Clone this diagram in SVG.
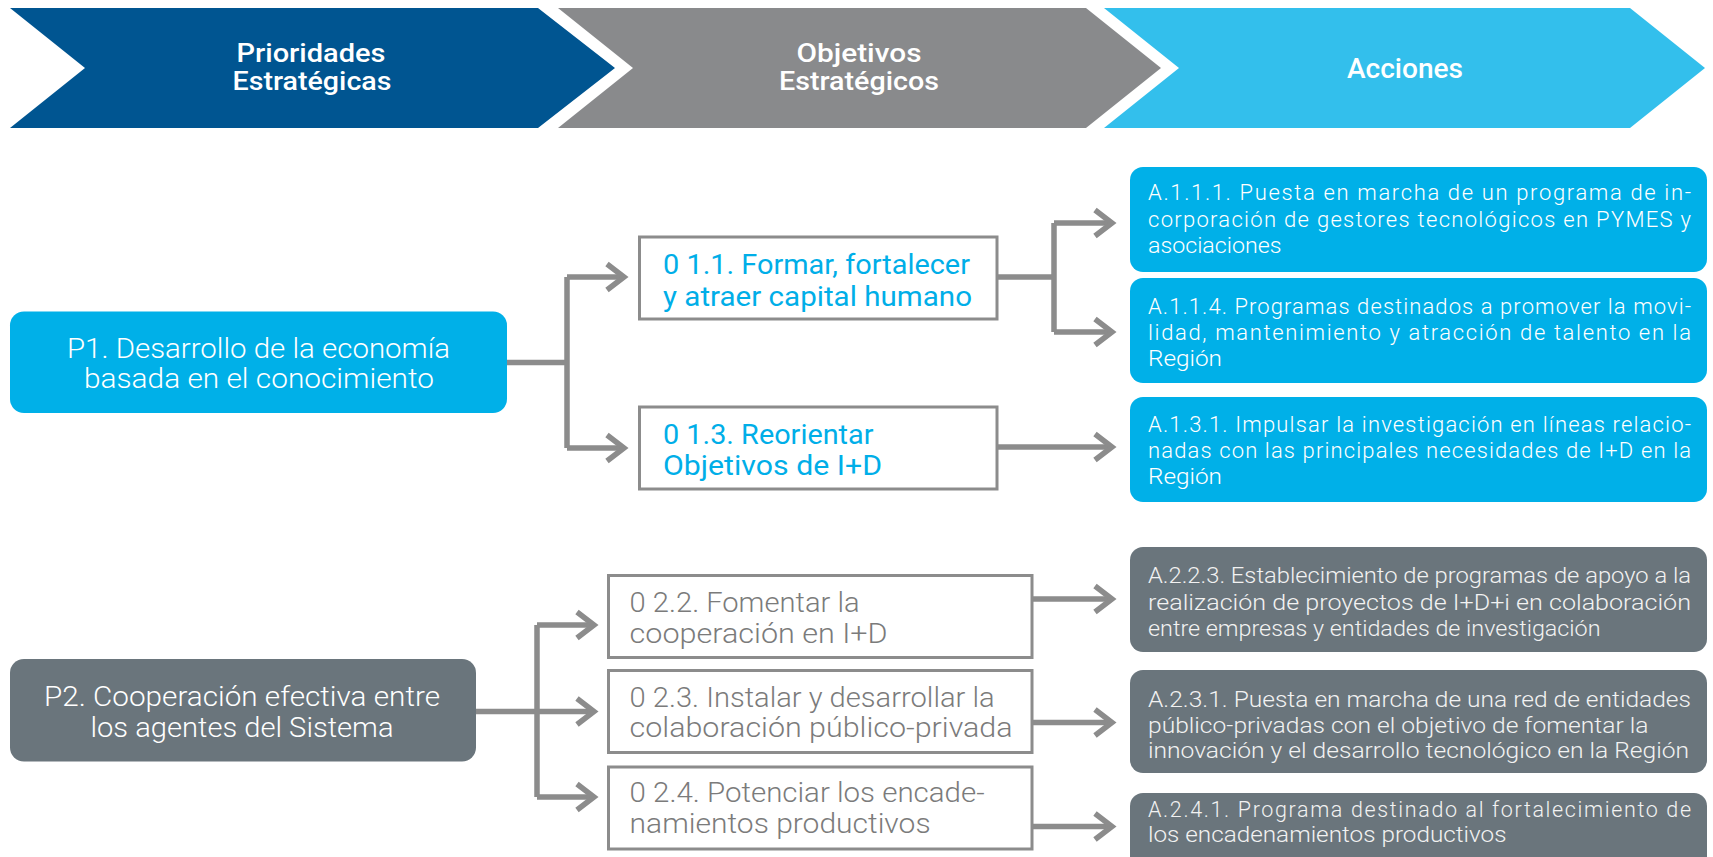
<svg xmlns="http://www.w3.org/2000/svg" width="1713" height="857" viewBox="0 0 1713 857">
<style>
text{font-family:Roboto,"Liberation Sans",sans-serif}
.hdr{font-weight:500;font-size:26px;fill:#fff;text-anchor:middle}
.p{font-weight:300;font-size:27px;fill:#fff;text-anchor:middle}
.o1{font-weight:400;font-size:28px;fill:#00aee8}
.o2{font-weight:300;font-size:28px;fill:#7b7b7b}
.a{font-weight:300;font-size:22px;fill:#fff}
.a2{font-weight:300;font-size:21.5px;fill:#f2f2f2}
.obox{fill:#fff;stroke:#8c8c8c;stroke-width:3}
.b1{fill:#00b0e8}
.b2{fill:#6a757c}
.con{fill:none;stroke:#8c8c8c;stroke-width:5.5;stroke-linejoin:miter}
</style>
<defs>
<path id="ah" d="M-17,-13 L0,0 L-17,13" class="con"/>
</defs>

<g id="header">
<polygon points="10,8 538,8 615,68 538,128 10,128 85,68" fill="#005591"/>
<polygon points="558,8 1086,8 1161,68 1086,128 558,128 633,68" fill="#898a8c"/>
<polygon points="1104,8 1630,8 1705,68 1630,128 1104,128 1179,68" fill="#33bfec"/>
<text class="hdr"><tspan x="311" y="61.5" textLength="149" lengthAdjust="spacingAndGlyphs">Prioridades</tspan><tspan x="312" y="90" textLength="159" lengthAdjust="spacingAndGlyphs">Estratégicas</tspan></text>
<text class="hdr"><tspan x="859" y="61.5" textLength="125" lengthAdjust="spacingAndGlyphs">Objetivos</tspan><tspan x="859" y="90" textLength="160" lengthAdjust="spacingAndGlyphs">Estratégicos</tspan></text>
<text class="hdr" x="1405" y="78" textLength="116" lengthAdjust="spacingAndGlyphs" style="font-size:28px">Acciones</text>
</g>

<g id="connectors">
<path class="con" d="M507,362.5 H567 M567,277 V448 M567,277 H622 M567,448 H622"/>
<use href="#ah" x="624" y="277"/>
<use href="#ah" x="624" y="448"/>
<path class="con" d="M997,277 H1054 M1054,223 V332 M1054,223 H1110 M1054,332 H1110"/>
<use href="#ah" x="1112" y="223"/>
<use href="#ah" x="1112" y="332"/>
<path class="con" d="M997,447 H1110"/>
<use href="#ah" x="1112" y="447"/>
<path class="con" d="M476,711.5 H592 M537,625 V797 M537,625 H592 M537,797 H592"/>
<use href="#ah" x="594" y="625"/>
<use href="#ah" x="594" y="711.5"/>
<use href="#ah" x="594" y="797"/>
<path class="con" d="M1032,599 H1110 M1032,722.5 H1110 M1032,826.5 H1110"/>
<use href="#ah" x="1112" y="599"/>
<use href="#ah" x="1112" y="722.5"/>
<use href="#ah" x="1112" y="826.5"/>
</g>

<g id="P1">
<rect class="b1" x="10" y="311.5" width="497" height="101.5" rx="14"/>
<text class="p"><tspan x="258.5" y="357.5" textLength="383" lengthAdjust="spacingAndGlyphs">P1. Desarrollo de la economía</tspan><tspan x="259" y="388" textLength="350" lengthAdjust="spacingAndGlyphs">basada en el conocimiento</tspan></text>
</g>

<g id="P2">
<rect class="b2" x="10" y="659" width="466" height="102.5" rx="14"/>
<text class="p"><tspan x="242" y="706" textLength="396" lengthAdjust="spacingAndGlyphs">P2. Cooperación efectiva entre</tspan><tspan x="242" y="736.5" textLength="303" lengthAdjust="spacingAndGlyphs">los agentes del Sistema</tspan></text>
</g>

<g id="O11">
<rect class="obox" x="639.5" y="237" width="357.5" height="82"/>
<text class="o1"><tspan x="663" y="274" textLength="307" lengthAdjust="spacingAndGlyphs">0 1.1. Formar, fortalecer</tspan><tspan x="663" y="305.5" textLength="309" lengthAdjust="spacingAndGlyphs">y atraer capital humano</tspan></text>
</g>

<g id="O13">
<rect class="obox" x="639.5" y="407" width="357.5" height="82"/>
<text class="o1"><tspan x="663" y="444" textLength="210.5" lengthAdjust="spacingAndGlyphs">0 1.3. Reorientar</tspan><tspan x="663" y="475" textLength="219" lengthAdjust="spacingAndGlyphs">Objetivos de I+D</tspan></text>
</g>

<g id="O22">
<rect class="obox" x="608.5" y="575.5" width="423.5" height="82"/>
<text class="o2"><tspan x="629.6" y="611.5" textLength="230" lengthAdjust="spacingAndGlyphs">0 2.2. Fomentar la</tspan><tspan x="629.6" y="642.5" textLength="258" lengthAdjust="spacingAndGlyphs">cooperación en I+D</tspan></text>
</g>

<g id="O23">
<rect class="obox" x="608.5" y="670.5" width="423.5" height="82"/>
<text class="o2"><tspan x="629.6" y="706.5" textLength="365" lengthAdjust="spacingAndGlyphs">0 2.3. Instalar y desarrollar la</tspan><tspan x="629.6" y="737" textLength="383" lengthAdjust="spacingAndGlyphs">colaboración público-privada</tspan></text>
</g>

<g id="O24">
<rect class="obox" x="608.5" y="767" width="423.5" height="82"/>
<text class="o2"><tspan x="629.6" y="801.5" textLength="355" lengthAdjust="spacingAndGlyphs">0 2.4. Potenciar los encade-</tspan><tspan x="629.6" y="833" textLength="301" lengthAdjust="spacingAndGlyphs">namientos productivos</tspan></text>
</g>

<g id="A111">
<rect class="b1" x="1130" y="167" width="577" height="105" rx="13"/>
<text class="a"><tspan x="1148" y="200" textLength="543" lengthAdjust="spacing">A.1.1.1. Puesta en marcha de un programa de in-</tspan><tspan x="1148" y="226.5" textLength="543" lengthAdjust="spacing">corporación de gestores tecnológicos en PYMES y</tspan><tspan x="1148" y="252.5" textLength="133.5" lengthAdjust="spacingAndGlyphs">asociaciones</tspan></text>
</g>

<g id="A114">
<rect class="b1" x="1130" y="278" width="577" height="105" rx="13"/>
<text class="a"><tspan x="1148" y="314" textLength="543" lengthAdjust="spacing">A.1.1.4. Programas destinados a promover la movi-</tspan><tspan x="1148" y="340" textLength="543" lengthAdjust="spacing">lidad, mantenimiento y atracción de talento en la</tspan><tspan x="1148" y="366" textLength="74" lengthAdjust="spacingAndGlyphs">Región</tspan></text>
</g>

<g id="A131">
<rect class="b1" x="1130" y="397" width="577" height="105" rx="13"/>
<text class="a"><tspan x="1148" y="431.5" textLength="543" lengthAdjust="spacing">A.1.3.1. Impulsar la investigación en líneas relacio-</tspan><tspan x="1148" y="457.5" textLength="543" lengthAdjust="spacing">nadas con las principales necesidades de I+D en la</tspan><tspan x="1148" y="484" textLength="74" lengthAdjust="spacingAndGlyphs">Región</tspan></text>
</g>

<g id="A223">
<rect class="b2" x="1130" y="547" width="577" height="105" rx="13"/>
<text class="a2"><tspan x="1148" y="583" textLength="543" lengthAdjust="spacingAndGlyphs">A.2.2.3. Establecimiento de programas de apoyo a la</tspan><tspan x="1148" y="610" textLength="543" lengthAdjust="spacingAndGlyphs">realización de proyectos de I+D+i en colaboración</tspan><tspan x="1148" y="636" textLength="452.5" lengthAdjust="spacingAndGlyphs">entre empresas y entidades de investigación</tspan></text>
</g>

<g id="A231">
<rect class="b2" x="1130" y="670" width="577" height="103" rx="13"/>
<text class="a2"><tspan x="1148" y="706.5" textLength="543" lengthAdjust="spacingAndGlyphs">A.2.3.1. Puesta en marcha de una red de entidades</tspan><tspan x="1148" y="732.5" textLength="500.5" lengthAdjust="spacingAndGlyphs">público-privadas con el objetivo de fomentar la</tspan><tspan x="1148" y="758" textLength="541" lengthAdjust="spacingAndGlyphs">innovación y el desarrollo tecnológico en la Región</tspan></text>
</g>

<g id="A241">
<rect class="b2" x="1130" y="793" width="577" height="105" rx="13"/>
<text class="a2"><tspan x="1148" y="816.5" textLength="543" lengthAdjust="spacing">A.2.4.1. Programa destinado al fortalecimiento de</tspan><tspan x="1148" y="841.5" textLength="358.5" lengthAdjust="spacingAndGlyphs">los encadenamientos productivos</tspan></text>
</g>
</svg>
